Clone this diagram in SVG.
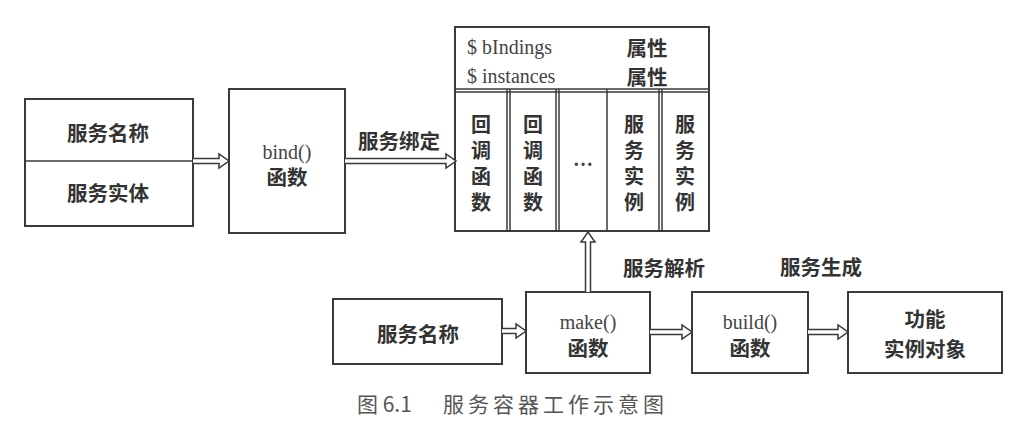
<svg xmlns="http://www.w3.org/2000/svg" width="1030" height="442" viewBox="0 0 1030 442">
<style>
.box{fill:#fff;stroke:#3a3a3a;stroke-width:2}
.ln{stroke:#3a3a3a;stroke-width:1.5;fill:none}
.cjk{font-family:"Noto Sans CJK SC","Noto Sans",sans-serif;font-weight:bold;font-size:20.5px;fill:#333;text-anchor:middle;dominant-baseline:central}
.col{font-family:"Noto Sans CJK SC","Noto Sans",sans-serif;font-weight:bold;font-size:20px;fill:#333;writing-mode:vertical-rl;letter-spacing:6px}
.ser{font-family:"Liberation Serif",serif;font-size:20px;fill:#444;text-anchor:middle;dominant-baseline:central}
.arr{fill:#fff;stroke:#3a3a3a;stroke-width:1.5;stroke-linejoin:miter}
.cap{font-family:"Noto Sans CJK SC","Noto Sans",sans-serif;font-size:21px;fill:#555;dominant-baseline:central}
</style>
<rect width="1030" height="442" fill="#fff"/>
<g id="n-service-pair">
<rect class="box" x="25" y="99" width="168" height="127"/>
<line class="ln" x1="25" y1="161" x2="193" y2="161"/>
<text class="cjk" x="108" y="132">服务名称</text>
<text class="cjk" x="108" y="192">服务实体</text>
</g>
<g id="n-bind">
<rect class="box" x="229" y="89" width="116" height="144"/>
<text class="ser" x="287" y="152">bind()</text>
<text class="cjk" x="287" y="176">函数</text>
</g>
<g id="n-container">
<rect class="box" x="455" y="27" width="254" height="204"/>
<line class="ln" x1="455" y1="89" x2="709" y2="89"/>
<line class="ln" x1="455" y1="92" x2="709" y2="92"/>
<line class="ln" x1="507" y1="89" x2="507" y2="231"/>
<line class="ln" x1="510" y1="89" x2="510" y2="231"/>
<line class="ln" x1="556" y1="89" x2="556" y2="231"/>
<line class="ln" x1="559" y1="89" x2="559" y2="231"/>
<line class="ln" x1="607" y1="89" x2="607" y2="231"/>
<line class="ln" x1="659" y1="89" x2="659" y2="231"/>
<line class="ln" x1="662" y1="89" x2="662" y2="231"/>
<text class="ser" x="467" y="47" style="text-anchor:start">$ bIndings</text>
<text class="ser" x="467" y="76" style="text-anchor:start">$ instances</text>
<text class="cjk" x="647" y="47">属性</text>
<text class="cjk" x="647" y="76">属性</text>
<text class="col" x="481" y="114">回调函数</text>
<text class="col" x="533" y="114">回调函数</text>
<text class="ser" x="583" y="159" style="font-weight:bold">…</text>
<text class="col" x="634" y="114">服务实例</text>
<text class="col" x="685" y="114">服务实例</text>
</g>
<g id="n-name2">
<rect class="box" x="333" y="299" width="169" height="65"/>
<text class="cjk" x="418" y="333">服务名称</text>
</g>
<g id="n-make">
<rect class="box" x="526" y="292" width="124" height="81"/>
<text class="ser" x="588" y="322">make()</text>
<text class="cjk" x="588" y="347">函数</text>
</g>
<g id="n-build">
<rect class="box" x="692" y="292" width="116" height="81"/>
<text class="ser" x="750" y="322">build()</text>
<text class="cjk" x="750" y="347">函数</text>
</g>
<g id="n-object">
<rect class="box" x="848" y="292" width="154" height="81"/>
<text class="cjk" x="925" y="318">功能</text>
<text class="cjk" x="925" y="348">实例对象</text>
</g>
<g id="connectors">
<path class="arr" d="M193 158.5 H219 V154 L229 161 L219 168 V163.5 H193"/>
<path class="arr" d="M345 158.5 H446 V154 L456 161 L446 168 V163.5 H345"/>
<text class="cjk" x="399" y="140">服务绑定</text>
<path class="arr" d="M585.5 292 V242 H581 L588 232 L595 242 H590.5 V292"/>
<text class="cjk" x="664" y="267">服务解析</text>
<path class="arr" d="M502 328.5 H516 V324 L526 331 L516 338 V333.5 H502"/>
<path class="arr" d="M650 329.5 H682 V325 L692 332 L682 339 V334.5 H650"/>
<path class="arr" d="M808 329.5 H838 V325 L848 332 L838 339 V334.5 H808"/>
<text class="cjk" x="821" y="266">服务生成</text>
</g>
<text class="cap" y="403"><tspan x="357">图 6.1</tspan><tspan x="443" letter-spacing="4">服务容器工作示意图</tspan></text>
</svg>
